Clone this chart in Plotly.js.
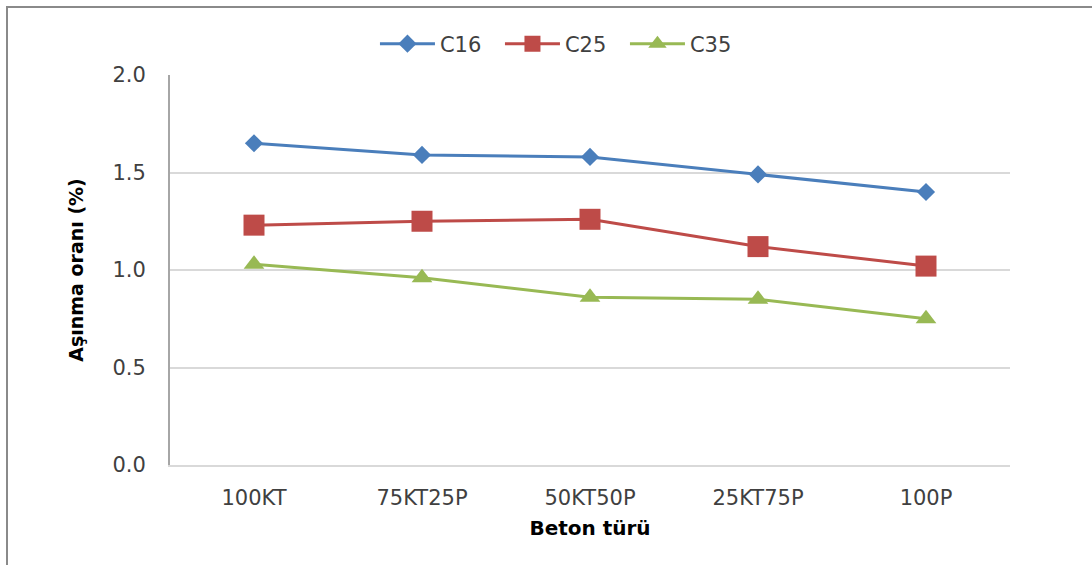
<!DOCTYPE html>
<html>
<head>
<meta charset="utf-8">
<script src="https://cdn.plot.ly/plotly-3.0.1.min.js"></script>
<style>
  html, body { margin: 0; padding: 0; background: #ffffff; }
  #frame { position: absolute; left: 6px; top: 6px; width: 1086px; height: 559px;
           border-top: 2px solid #8a8a8a; border-left: 2px solid #8a8a8a; box-sizing: border-box; }
  #chart { position: absolute; left: 0; top: 0; width: 1092px; height: 565px; }
</style>
</head>
<body>
<div id="frame"></div>
<div id="chart"></div>
<script>
// Concrete types on the x axis
const categories = ['100KT', '75KT25P', '50KT50P', '25KT75P', '100P'];

// Wear ratio (%) per concrete class
const c16 = [1.65, 1.59, 1.58, 1.49, 1.40];
const c25 = [1.23, 1.25, 1.26, 1.12, 1.02];
const c35 = [1.03, 0.96, 0.86, 0.85, 0.75];

const yTicks = [0, 0.5, 1.0, 1.5, 2.0];
const yTickText = ['0.0', '0.5', '1.0', '1.5', '2.0'];

const seriesNames = ['C16', 'C25', 'C35'];

const FONT = 'DejaVu Sans, Verdana, sans-serif';

function series(name, values, color, symbol, size) {
  return {
    type: 'scatter', mode: 'lines+markers', name: name,
    x: categories, y: values,
    line: { color: color, width: 3 },
    marker: { color: color, symbol: symbol, size: size }
  };
}

const data = [
  series(seriesNames[0], c16, '#4A7EBB', 'diamond', 14),
  series(seriesNames[1], c25, '#BE4B48', 'square', 21),
  series(seriesNames[2], c35, '#98B954', 'triangle-up', 18)
];

const layout = {
  width: 1092, height: 565,
  margin: { l: 170, r: 82, t: 75, b: 100 },
  paper_bgcolor: 'rgba(0,0,0,0)', plot_bgcolor: '#ffffff',
  showlegend: true,
  legend: {
    orientation: 'h', x: 0.244, xanchor: 'left', y: 1.0795, yanchor: 'middle',
    font: { family: FONT, size: 21, color: '#404040' },
    itemwidth: 55, entrywidth: 55, entrywidthmode: 'pixels'
  },
  xaxis: {
    type: 'category', range: [-0.5, 4.5],
    showgrid: false, showline: true, linecolor: '#d9d9d9', linewidth: 2,
    ticks: '', zeroline: false, ticklabelstandoff: 13,
    tickfont: { family: FONT, size: 21, color: '#404040' },
    title: { text: 'Beton türü', standoff: 12,
             font: { family: FONT, size: 20, color: '#000000', weight: 'bold' } }
  },
  yaxis: {
    range: [0, 2.0], tickvals: yTicks, ticktext: yTickText,
    showgrid: true, gridcolor: '#d9d9d9', gridwidth: 2,
    showline: true, linecolor: '#a6a6a6', linewidth: 2,
    ticks: '', zeroline: false, ticklabelstandoff: 18,
    tickfont: { family: FONT, size: 21, color: '#404040' },
    title: { text: 'Aşınma oranı (%)', standoff: 24,
             font: { family: FONT, size: 19, color: '#000000', weight: 'bold' } }
  }
};

Plotly.newPlot('chart', data, layout, { displayModeBar: false, staticPlot: true });
</script>
</body>
</html>
